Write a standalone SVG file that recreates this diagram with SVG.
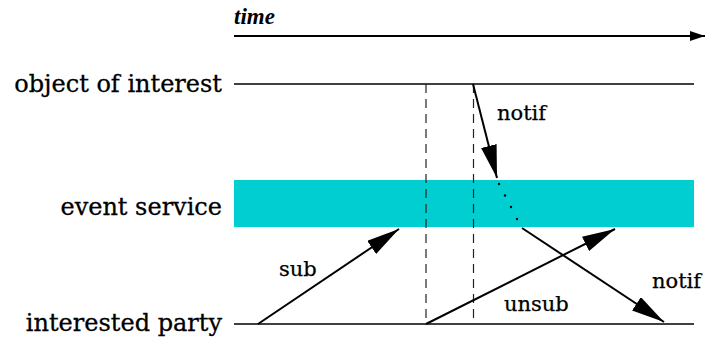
<svg xmlns="http://www.w3.org/2000/svg" width="706" height="341" viewBox="0 0 706 341">
<style>
.lbl{font-family:"DejaVu Serif","Liberation Serif",serif;font-size:24px;fill:#000;stroke:#000;stroke-width:0.3}
.sm{font-family:"DejaVu Serif","Liberation Serif",serif;font-size:21px;fill:#000;stroke:#000;stroke-width:0.25}
.tl{font-family:"Liberation Serif",serif;font-size:23px;font-style:italic;font-weight:bold;fill:#000}
.life{stroke:#000;stroke-width:1.5;fill:none}
.arr{stroke:#000;stroke-width:2;fill:none;marker-end:url(#head)}
.dash{stroke:#222;stroke-width:1.2;stroke-dasharray:9 6;fill:none}
</style>
<defs>
<marker id="head" markerUnits="userSpaceOnUse" markerWidth="34" markerHeight="18" refX="33" refY="8" orient="auto">
<path d="M0,0 L33,8 L0,16 z" fill="#000"/>
</marker>
<marker id="thead" markerUnits="userSpaceOnUse" markerWidth="16" markerHeight="12" refX="15" refY="5" orient="auto">
<path d="M0,0 L15,5 L0,10 z" fill="#000"/>
</marker>
</defs>
<g id="time-axis">
<text class="tl" x="234" y="24">time</text>
<line x1="234" y1="36" x2="705" y2="36" stroke="#000" stroke-width="2" marker-end="url(#thead)"/>
</g>
<g id="object-of-interest">
<text class="lbl" x="222" y="92" text-anchor="end">object of interest</text>
<line class="life" x1="234" y1="84" x2="694" y2="84"/>
</g>
<g id="event-service">
<rect x="234" y="180" width="460" height="47" fill="#00CED1"/>
<text class="lbl" x="222" y="215" text-anchor="end">event service</text>
</g>
<g id="interested-party">
<text class="lbl" x="222" y="331" text-anchor="end">interested party</text>
<line class="life" x1="234" y1="324" x2="694" y2="324"/>
</g>
<g id="connectors">
<line class="dash" x1="426" y1="84" x2="426" y2="324"/>
<line class="dash" x1="473.5" y1="84" x2="473.5" y2="324"/>
<line class="arr" x1="473" y1="84" x2="497" y2="178"/>
<g fill="#000">
<circle cx="499" cy="184" r="1.2"/>
<circle cx="505" cy="195.5" r="1.2"/>
<circle cx="511" cy="207" r="1.2"/>
<circle cx="517" cy="219" r="1.2"/>
</g>
<line class="arr" x1="522" y1="228" x2="664" y2="322"/>
<line class="arr" x1="258" y1="324" x2="399" y2="229"/>
<line class="arr" x1="426" y1="324" x2="615" y2="229"/>
<text class="sm" x="497" y="120">notif</text>
<text class="sm" x="279" y="276">sub</text>
<text class="sm" x="504" y="311">unsub</text>
<text class="sm" x="652" y="288">notif</text>
</g>
</svg>
